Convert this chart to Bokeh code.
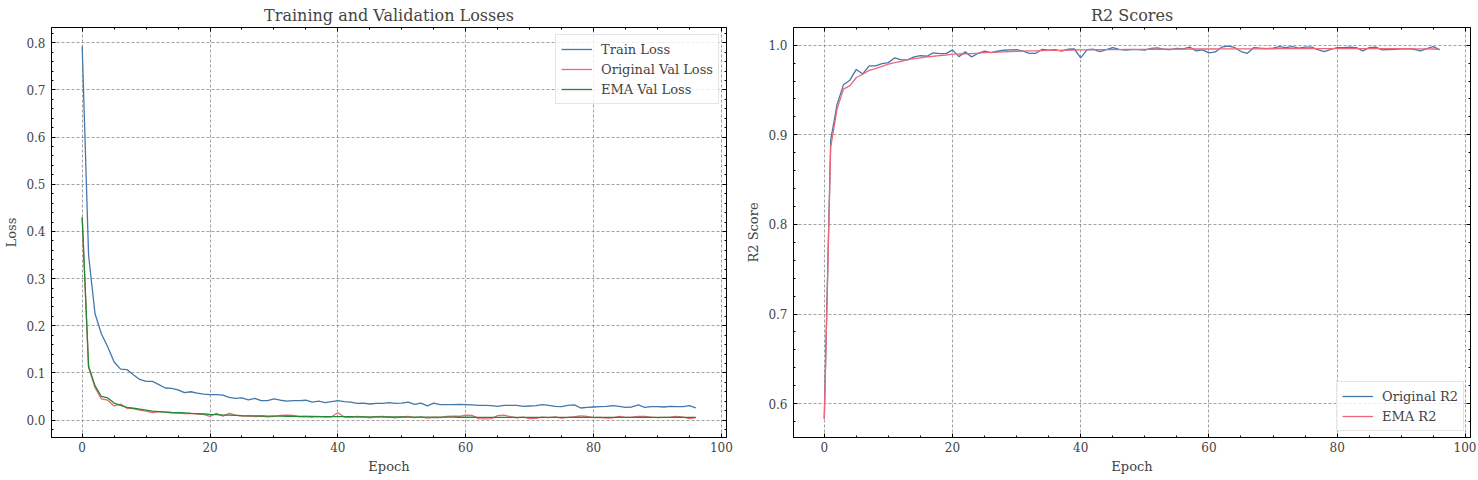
from bokeh.plotting import figure
from bokeh.models import (Range1d, LinearAxis, SingleIntervalTicker, CustomJSTickFormatter,
                          NumeralTickFormatter)
from bokeh.layouts import row
from bokeh.embed import file_html
from bokeh.resources import INLINE

# ---------------- data ----------------
epochs = list(range(97))

train_loss = [
    0.793, 0.350, 0.226, 0.183, 0.155, 0.123, 0.108, 0.107, 0.096, 0.086,
    0.082, 0.082, 0.075, 0.068, 0.067, 0.064, 0.058, 0.060, 0.057, 0.055,
    0.054, 0.054, 0.053, 0.048, 0.046, 0.047, 0.043, 0.046, 0.041, 0.041,
    0.045, 0.042, 0.040, 0.041, 0.041, 0.042, 0.038, 0.040, 0.037, 0.039,
    0.041, 0.039, 0.038, 0.0355, 0.036, 0.034, 0.0355, 0.0355, 0.037, 0.0355,
    0.036, 0.038, 0.033, 0.036, 0.030, 0.036, 0.0326, 0.0326, 0.0326, 0.033,
    0.0326, 0.032, 0.031, 0.031, 0.0305, 0.029, 0.031, 0.031, 0.031, 0.029,
    0.0298, 0.0305, 0.0326, 0.031, 0.029, 0.0284, 0.031, 0.032, 0.0255, 0.027,
    0.0277, 0.0284, 0.029, 0.0305, 0.029, 0.027, 0.0277, 0.032, 0.027, 0.0284,
    0.0284, 0.0277, 0.029, 0.0284, 0.0284, 0.0305, 0.026,
]

orig_val_loss = [
    0.428, 0.112, 0.069, 0.045, 0.042, 0.030, 0.034, 0.025, 0.024, 0.021,
    0.019, 0.016, 0.018, 0.017, 0.0155, 0.0155, 0.0135, 0.014, 0.0128, 0.012,
    0.0078, 0.014, 0.0085, 0.014, 0.0106, 0.0085, 0.0090, 0.0075, 0.0085, 0.0070,
    0.0080, 0.0100, 0.0105, 0.0098, 0.0070, 0.0075, 0.0065, 0.0078, 0.0060, 0.0070,
    0.0155, 0.0065, 0.0060, 0.0075, 0.0065, 0.0048, 0.0070, 0.0075, 0.0060, 0.0045,
    0.0065, 0.0078, 0.0050, 0.0065, 0.0040, 0.0055, 0.0050, 0.0075, 0.0085, 0.0080,
    0.0105, 0.0098, 0.0030, 0.0025, 0.0030, 0.0095, 0.0105, 0.0070, 0.0045, 0.0060,
    0.0030, 0.0035, 0.0060, 0.0050, 0.0065, 0.0040, 0.0055, 0.0070, 0.0090, 0.0075,
    0.0050, 0.0055, 0.0040, 0.0045, 0.0080, 0.0055, 0.0060, 0.0075, 0.0078, 0.0060,
    0.0050, 0.0055, 0.0060, 0.0078, 0.0060, 0.0030, 0.0050,
]

ema_val_loss = [
    0.430, 0.114, 0.073, 0.050, 0.047, 0.036, 0.031, 0.027, 0.025, 0.023,
    0.021, 0.019, 0.018, 0.017, 0.016, 0.0155, 0.015, 0.014, 0.0135, 0.0128,
    0.012, 0.0113, 0.0106, 0.0104, 0.0099, 0.0093, 0.0090, 0.0088, 0.0086, 0.0084,
    0.0082, 0.0081, 0.0080, 0.0079, 0.0077, 0.0076, 0.0075, 0.0074, 0.0073, 0.0072,
    0.0072, 0.0071, 0.0070, 0.0069, 0.0068, 0.0067, 0.0067, 0.0066, 0.0065, 0.0065,
    0.0064, 0.0063, 0.0063, 0.0062, 0.0062, 0.0061, 0.0061, 0.0060, 0.0060, 0.0059,
    0.0059, 0.0059, 0.0058, 0.0058, 0.0058, 0.0058, 0.0057, 0.0057, 0.0057, 0.0057,
    0.0056, 0.0056, 0.0056, 0.0056, 0.0056, 0.0056, 0.0055, 0.0055, 0.0055, 0.0056,
    0.0056, 0.0055, 0.0055, 0.0055, 0.0055, 0.0056, 0.0056, 0.0056, 0.0056, 0.0056,
    0.0055, 0.0055, 0.0055, 0.0056, 0.0056, 0.0055, 0.0055,
]

orig_r2 = [
    0.583, 0.894, 0.934, 0.956, 0.961, 0.973, 0.968, 0.977, 0.977, 0.9795,
    0.9806, 0.986, 0.9836, 0.9836, 0.987, 0.9885, 0.9877, 0.9914, 0.9907, 0.9907,
    0.9948, 0.9873, 0.9926, 0.987, 0.991, 0.9933, 0.9918, 0.9933, 0.9944, 0.9948,
    0.995, 0.9935, 0.991, 0.991, 0.9955, 0.9945, 0.9950, 0.9935, 0.9955, 0.9958,
    0.986, 0.9950, 0.9955, 0.993, 0.9950, 0.9974, 0.9955, 0.9945, 0.9952, 0.9950,
    0.9945, 0.9966, 0.9970, 0.9955, 0.9950, 0.9966, 0.9960, 0.998, 0.9937, 0.9948,
    0.9914, 0.9925, 0.998, 0.999, 0.9975, 0.993, 0.991, 0.9974, 0.9967, 0.9963,
    0.9967, 0.9985, 0.9974, 0.9985, 0.9967, 0.998, 0.998, 0.995, 0.993, 0.9955,
    0.9974, 0.9974, 0.9978, 0.9974, 0.9937, 0.9974, 0.998, 0.9948, 0.9952, 0.9955,
    0.9959, 0.9963, 0.9955, 0.9937, 0.9963, 0.9985, 0.9948,
]

ema_r2 = [
    0.583, 0.886, 0.929, 0.951, 0.955, 0.964, 0.9676, 0.972, 0.974, 0.9765,
    0.9788, 0.9806, 0.982, 0.984, 0.985, 0.986, 0.987, 0.9877, 0.9885, 0.989,
    0.990, 0.9902, 0.9905, 0.9907, 0.9912, 0.9918, 0.9921, 0.9924, 0.9927, 0.993,
    0.9932, 0.9934, 0.9936, 0.9938, 0.994, 0.9942, 0.9943, 0.9944, 0.9946, 0.9947,
    0.9948, 0.9949, 0.9950, 0.9950, 0.9951, 0.9952, 0.9952, 0.9953, 0.9953, 0.9954,
    0.9954, 0.9955, 0.9955, 0.9956, 0.9956, 0.9957, 0.9957, 0.9958, 0.9958, 0.9958,
    0.9958, 0.9958, 0.9959, 0.9960, 0.9960, 0.9960, 0.9959, 0.9960, 0.9960, 0.9961,
    0.9961, 0.9962, 0.9962, 0.9962, 0.9962, 0.9963, 0.9963, 0.9963, 0.9962, 0.9962,
    0.9962, 0.9962, 0.9963, 0.9963, 0.9962, 0.9962, 0.9962, 0.9962, 0.9962, 0.9961,
    0.9961, 0.9961, 0.9960, 0.9960, 0.9960, 0.9958, 0.9953,
]

BLUE = "#4477AA"
RED = "#EE6677"
GREEN = "#228833"
FONT = "DejaVu Serif"


def padded(vals, frac=0.05):
    lo, hi = min(vals), max(vals)
    d = (hi - lo) * frac
    return Range1d(lo - d, hi + d)


def make_fig(title, ylabel, ys, width, mbl, mbr, ylab_standoff):
    p = figure(width=width, height=478, output_backend="svg", toolbar_location=None,
               x_range=padded(epochs), y_range=padded(ys),
               min_border_left=mbl, min_border_right=mbr,
               min_border_top=27, min_border_bottom=41)
    p.title.text = title
    p.title.text_font = FONT
    p.title.text_font_size = "16px"
    p.title.text_font_style = "normal"
    p.title.text_line_height = 1.0
    p.title.align = "center"
    p.title.standoff = 5
    p.outline_line_color = "black"
    p.outline_line_width = 1
    p.background_fill_color = "white"
    p.border_fill_color = "white"

    xt = SingleIntervalTicker(interval=20, num_minor_ticks=4)
    yt = SingleIntervalTicker(interval=0.1, num_minor_ticks=5)

    xa = p.below[0]
    ya = p.left[0]
    xa.ticker = xt
    ya.ticker = yt
    ya.formatter = NumeralTickFormatter(format="0.0")
    xa.axis_label = "Epoch"
    ya.axis_label = ylabel
    for ax in (xa, ya):
        ax.axis_label_text_font = FONT
        ax.axis_label_text_font_size = "13px"
        ax.axis_label_text_font_style = "normal"
        ax.axis_label_text_line_height = 1.0
        ax.major_label_text_font = FONT
        ax.major_label_text_font_size = "12px"
        ax.major_label_text_line_height = 1.0
    for loc, tk in (("above", xt), ("right", yt)):
        ax = LinearAxis(ticker=tk, formatter=CustomJSTickFormatter(code="return ''"),
                        major_label_text_font_size="0px", major_label_standoff=0,
                        axis_label_standoff=0)
        p.add_layout(ax, loc)
    for ax in p.axis:
        ax.major_tick_in = 4
        ax.major_tick_out = 0
        ax.minor_tick_in = 2
        ax.minor_tick_out = 0
        ax.axis_line_color = "black"
        ax.major_tick_line_color = "black"
        ax.minor_tick_line_color = "black"
    xa.major_label_standoff = 4
    xa.axis_label_standoff = 4
    ya.major_label_standoff = 6
    ya.axis_label_standoff = ylab_standoff

    p.xgrid.ticker = xt
    p.ygrid.ticker = yt
    p.grid.grid_line_color = "#8a8a8a"
    p.grid.grid_line_dash = "3 2"
    p.grid.grid_line_width = 0.8
    return p


def style_legend(p, loc, margin):
    lg = p.legend[0]
    lg.location = loc
    lg.label_text_font = FONT
    lg.label_text_font_size = "13px"
    lg.glyph_width = 31
    lg.glyph_height = 18
    lg.label_height = 18
    lg.label_standoff = 9
    lg.spacing = 2
    lg.padding = 5
    lg.margin = margin
    lg.border_line_color = "#cccccc"
    lg.border_line_width = 1
    lg.background_fill_alpha = 0.8


p1 = make_fig("Training and Validation Losses", "Loss",
              train_loss + orig_val_loss + ema_val_loss, 740, 51, 14, 4)
p1.line(epochs, train_loss, line_color=BLUE, line_width=1.3, legend_label="Train Loss")
p1.line(epochs, orig_val_loss, line_color=RED, line_width=1.3, legend_label="Original Val Loss")
p1.line(epochs, ema_val_loss, line_color=GREEN, line_width=1.3, legend_label="EMA Val Loss")
style_legend(p1, "top_right", 7)

p2 = make_fig("R2 Scores", "R2 Score", orig_r2 + ema_r2, 736, 53, 6, 4)
p2.line(epochs, orig_r2, line_color=BLUE, line_width=1.3, legend_label="Original R2")
p2.line(epochs, ema_r2, line_color=RED, line_width=1.3, legend_label="EMA R2")
style_legend(p2, "bottom_right", 6)

layout = row(p1, p2)
open("out.html", "w").write(file_html(layout, INLINE))
